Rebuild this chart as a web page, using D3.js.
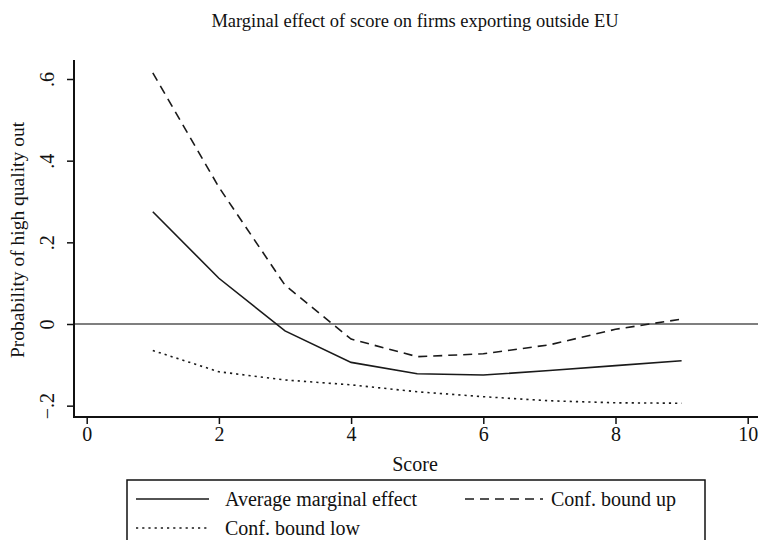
<!DOCTYPE html>
<html><head><meta charset="utf-8">
<script src="https://cdn.jsdelivr.net/npm/d3@7"></script>
<style>body{margin:0;background:#fff}svg{display:block}text{font-family:"Liberation Serif","Times New Roman",serif;fill:#111}</style>
</head><body>
<script>
const scores = [1,2,3,4,5,6,7,8,9];
const ame    = [0.275,0.112,-0.017,-0.094,-0.122,-0.125,-0.114,-0.102,-0.090];
const upper  = [0.615,0.335,0.095,-0.037,-0.080,-0.073,-0.051,-0.013,0.012];
const lower  = [-0.065,-0.117,-0.137,-0.149,-0.166,-0.178,-0.188,-0.193,-0.194];
const xTicks = [0,2,4,6,8,10];
const yTicks = [-0.2,0,0.2,0.4,0.6];
const yTickLabels = ["\u2212.2","0",".2",".4",".6"];
const title = "Marginal effect of score on firms exporting outside EU";
const xTitle = "Score";
const yTitle = "Probability of high quality out";
const legendLabels = ["Average marginal effect","Conf. bound up","Conf. bound low"];

(function(){
const W=759,H=540;
const svg=d3.select("body").append("svg").attr("width",W).attr("height",H);
const x=d3.scaleLinear().domain([0,10]).range([86.7,747.7]);
const y=d3.scaleLinear().domain([0,0.6]).range([324,79]);
const pL=74,pB=417,pR=758,pT=60;

svg.append("text").attr("x",415).attr("y",27).attr("text-anchor","middle").attr("font-size",18.5).text(title);

svg.append("line").attr("x1",pL).attr("x2",pR).attr("y1",y(0)).attr("y2",y(0)).attr("stroke","#555").attr("stroke-width",1.6);

const gx=svg.append("g").attr("transform",`translate(0,${pB})`)
  .call(d3.axisBottom(x).tickValues(xTicks).tickSize(7).tickPadding(3).tickFormat(d3.format("d")));
gx.select(".domain").remove();
gx.selectAll(".tick line").attr("stroke","#111").attr("stroke-width",1.5);
gx.selectAll("text").attr("font-size",20).attr("font-family","Liberation Serif").attr("fill","#111");
svg.append("line").attr("x1",pL-1).attr("x2",pR).attr("y1",pB).attr("y2",pB).attr("stroke","#111").attr("stroke-width",2);

const gy=svg.append("g").attr("transform",`translate(${pL},0)`)
  .call(d3.axisLeft(y).tickValues(yTicks).tickSize(7).tickFormat((d,i)=>yTickLabels[i]));
gy.select(".domain").remove();
gy.selectAll(".tick line").attr("stroke","#111").attr("stroke-width",1.5);
gy.selectAll("text").attr("font-size",20).attr("font-family","Liberation Serif").attr("fill","#111")
  .attr("x",0).attr("dy",null).attr("text-anchor","middle")
  .attr("transform","translate(-20,0) rotate(-90)");
svg.append("line").attr("x1",pL).attr("x2",pL).attr("y1",pT).attr("y2",pB+1).attr("stroke","#111").attr("stroke-width",2);

svg.append("text").attr("x",415).attr("y",471).attr("text-anchor","middle").attr("font-size",20).text(xTitle);
svg.append("text").attr("transform",`translate(24,240) rotate(-90)`).attr("text-anchor","middle").attr("font-size",19.5).text(yTitle);

const line=d3.line().x((d,i)=>x(scores[i])).y(d=>y(d));
const series=[
  {vals:ame,dash:null},
  {vals:upper,dash:"9,6"},
  {vals:lower,dash:"2.2,4"}
];
series.forEach(s=>{
  svg.append("path").datum(s.vals).attr("d",line).attr("fill","none").attr("stroke","#1a1a1a")
    .attr("stroke-width",1.6).attr("stroke-dasharray",s.dash);
});

svg.append("rect").attr("x",127).attr("y",480).attr("width",578).attr("height",80).attr("fill","#fff").attr("stroke","#111").attr("stroke-width",1.5);
const leg=[
  {x1:136,x2:209,tx:225,yy:499,dash:null,label:legendLabels[0]},
  {x1:465,x2:543,tx:551,yy:499,dash:"9,6",label:legendLabels[1]},
  {x1:136,x2:209,tx:225,yy:528,dash:"2.2,4",label:legendLabels[2]}
];
leg.forEach(l=>{
  svg.append("line").attr("x1",l.x1).attr("x2",l.x2).attr("y1",l.yy).attr("y2",l.yy).attr("stroke","#1a1a1a").attr("stroke-width",1.6).attr("stroke-dasharray",l.dash);
  svg.append("text").attr("x",l.tx).attr("y",l.yy).attr("dy","0.35em").attr("font-size",20).text(l.label);
});
})();
</script>
</body></html>
